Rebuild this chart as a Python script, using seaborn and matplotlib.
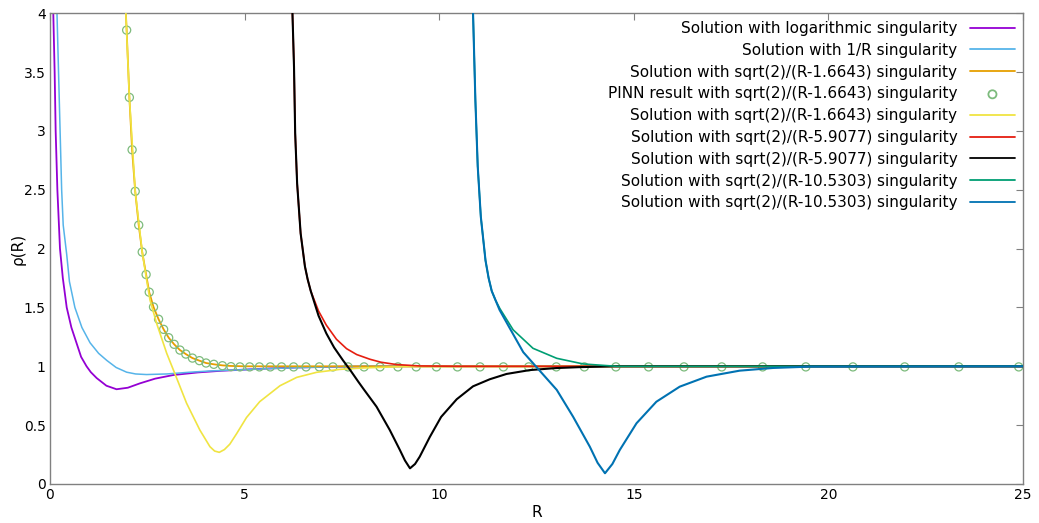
import matplotlib
matplotlib.use("Agg")
import matplotlib.pyplot as plt
import seaborn as sns

# ---------------- data ----------------
log_R   = [0.085, 0.12, 0.146, 0.19, 0.257, 0.33, 0.43, 0.55, 0.68, 0.80, 0.94, 1.05, 1.2, 1.45, 1.71, 2.0, 2.31, 2.7, 3.17, 3.8, 4.4, 4.88, 5.5, 6.3, 7.5, 9.0, 25.0]
log_rho = [4.0, 3.5, 3.0, 2.5, 2.0, 1.75, 1.5, 1.33, 1.2, 1.08, 1.0, 0.95, 0.9, 0.835, 0.805, 0.818, 0.855, 0.895, 0.926, 0.948, 0.962, 0.97, 0.98, 0.99, 0.997, 1.0, 1.0]

inv_R   = [0.18, 0.22, 0.26, 0.30, 0.34, 0.43, 0.50, 0.64, 0.82, 1.03, 1.25, 1.46, 1.70, 1.97, 2.20, 2.48, 3.0, 3.6, 4.2, 4.88, 5.6, 6.5, 8.0, 25.0]
inv_rho = [4.0, 3.5, 3.0, 2.5, 2.2, 1.95, 1.72, 1.5, 1.33, 1.2, 1.11, 1.05, 0.99, 0.95, 0.935, 0.93, 0.935, 0.95, 0.962, 0.97, 0.98, 0.99, 1.0, 1.0]

s1_R   = [1.95, 1.97, 2.04, 2.11, 2.19, 2.28, 2.37, 2.47, 2.55, 2.66, 2.79, 2.92, 3.05, 3.19, 3.34, 3.49, 3.66, 3.84, 4.01, 4.21, 4.43, 4.65, 5.0, 6.0, 25.0]
s1_rho = [4.0, 3.857, 3.285, 2.84, 2.487, 2.20, 1.971, 1.78, 1.63, 1.504, 1.40, 1.314, 1.243, 1.187, 1.138, 1.104, 1.07, 1.048, 1.028, 1.017, 1.008, 1.003, 1.0, 1.0, 1.0]

pinn_R   = [1.97, 2.04, 2.11, 2.19, 2.28, 2.37, 2.47, 2.55, 2.66, 2.79, 2.92, 3.05, 3.19, 3.34, 3.49, 3.66, 3.84, 4.01, 4.21, 4.43,
            4.65, 4.88, 5.13, 5.38, 5.66, 5.95, 6.26, 6.58, 6.92, 7.27, 7.66, 8.07, 8.48, 8.94, 9.41, 9.93, 10.47, 11.05,
            11.65, 12.30, 13.01, 13.73, 14.54, 15.38, 16.29, 17.26, 18.31, 19.42, 20.63, 21.96, 23.35, 24.89]
pinn_rho = [3.857, 3.285, 2.84, 2.487, 2.20, 1.971, 1.78, 1.63, 1.504, 1.40, 1.314, 1.243, 1.187, 1.138, 1.104, 1.07, 1.048, 1.028, 1.017, 1.005,
            0.997, 0.995, 0.995, 0.995, 0.995, 0.995, 0.995, 0.995, 0.995, 0.995, 0.995, 0.995, 0.995, 0.995, 0.995, 0.995, 0.995, 0.995,
            0.995, 0.995, 0.995, 0.995, 0.995, 0.995, 0.995, 0.995, 0.995, 0.995, 0.995, 0.995, 0.995, 0.995]

y1_R   = [1.95, 2.04, 2.19, 2.37, 2.50, 2.57, 2.74, 3.0, 3.24, 3.51, 3.85, 4.11, 4.23, 4.35, 4.48, 4.62, 4.80, 5.05, 5.39, 5.91, 6.34, 6.85, 7.45, 8.05, 9.0, 25.0]
y1_rho = [4.0, 3.285, 2.487, 1.971, 1.70, 1.563, 1.365, 1.11, 0.912, 0.686, 0.459, 0.317, 0.28, 0.269, 0.292, 0.338, 0.43, 0.565, 0.70, 0.835, 0.906, 0.949, 0.974, 0.986, 0.997, 1.0]

s2_R   = [6.23, 6.27, 6.30, 6.35, 6.44, 6.55, 6.62, 6.70, 6.90, 7.10, 7.36, 7.62, 7.88, 8.22, 8.50, 8.90, 9.50, 10.5, 25.0]
s2_rho = [4.0, 3.545, 2.98, 2.555, 2.13, 1.85, 1.74, 1.64, 1.47, 1.35, 1.23, 1.15, 1.10, 1.06, 1.035, 1.015, 1.003, 1.0, 1.0]

b2_R   = [6.23, 6.27, 6.30, 6.35, 6.44, 6.55, 6.62, 6.70, 6.90, 7.10, 7.30, 7.53, 7.71, 7.92, 8.05, 8.39, 8.73, 8.99, 9.12, 9.25, 9.38,
          9.50, 9.76, 10.05, 10.45, 10.87, 11.30, 11.73, 12.33, 13.0, 13.61, 14.5, 25.0]
b2_rho = [4.0, 3.545, 2.98, 2.555, 2.13, 1.85, 1.74, 1.64, 1.43, 1.28, 1.16, 1.05, 0.97, 0.87, 0.81, 0.657, 0.459, 0.289, 0.20, 0.133, 0.17,
          0.232, 0.40, 0.57, 0.72, 0.83, 0.89, 0.935, 0.968, 0.985, 0.993, 1.0, 1.0]

s3_R   = [10.87, 10.93, 10.99, 11.07, 11.19, 11.27, 11.35, 11.45, 11.56, 11.90, 12.41, 13.02, 13.70, 14.56, 16.0, 25.0]
s3_rho = [4.0, 3.26, 2.70, 2.27, 1.90, 1.75, 1.64, 1.56, 1.49, 1.31, 1.153, 1.068, 1.02, 1.0, 1.0, 1.0]

b3_R   = [10.87, 10.93, 10.99, 11.07, 11.19, 11.27, 11.35, 11.45, 11.55, 11.82, 12.16, 12.59, 13.02, 13.44, 13.87, 14.07, 14.26, 14.45,
          14.64, 15.07, 15.58, 16.18, 16.87, 17.72, 18.58, 19.5, 25.0]
b3_rho = [4.0, 3.26, 2.70, 2.27, 1.90, 1.75, 1.64, 1.56, 1.48, 1.32, 1.12, 0.96, 0.80, 0.572, 0.317, 0.18, 0.091, 0.17,
          0.289, 0.516, 0.699, 0.827, 0.912, 0.963, 0.986, 0.997, 1.0]

labels = [
    "Solution with logarithmic singularity",
    "Solution with 1/R singularity",
    "Solution with sqrt(2)/(R-1.6643) singularity",
    "PINN result with sqrt(2)/(R-1.6643) singularity",
    "Solution with sqrt(2)/(R-1.6643) singularity",
    "Solution with sqrt(2)/(R-5.9077) singularity",
    "Solution with sqrt(2)/(R-5.9077) singularity",
    "Solution with sqrt(2)/(R-10.5303) singularity",
    "Solution with sqrt(2)/(R-10.5303) singularity",
]
colors = ["#9400D3", "#56B4E9", "#E69F00", "#7dbb7d", "#F0E442", "#E51E10", "#000000", "#009E73", "#0072B2"]

x_ticks = [0, 5, 10, 15, 20, 25]
x_ticklabels = ["0", "5", "10", "15", "20", "25"]
y_ticks = [0, 0.5, 1, 1.5, 2, 2.5, 3, 3.5, 4]
y_ticklabels = ["0", "0.5", "1", "1.5", "2", "2.5", "3", "3.5", "4"]

# ---------------- plotting ----------------
sns.set_theme(style="white")
plt.rcParams["font.family"] = ["DejaVu Sans"]
plt.rcParams["text.color"] = "black"
plt.rcParams["axes.labelcolor"] = "black"

fig = plt.figure(figsize=(10.39, 5.23), dpi=100)
ax = fig.add_axes([0.0481, 0.0746, 0.9365, 0.9000])

line_series = [
    (0, log_R, log_rho, 1.3),
    (1, inv_R, inv_rho, 1.1),
    (2, s1_R, s1_rho, 1.3),
]
for idx, xs, ys, lw in line_series:
    sns.lineplot(x=xs, y=ys, sort=False, estimator=None, color=colors[idx], lw=lw,
                 label=labels[idx], ax=ax)

sns.scatterplot(x=pinn_R, y=pinn_rho, marker="o", s=34, facecolors="none",
                edgecolors=colors[3], linewidths=0.9, label=labels[3], ax=ax, zorder=3)

line_series2 = [
    (4, y1_R, y1_rho, 1.2),
    (5, s2_R, s2_rho, 1.2),
    (6, b2_R, b2_rho, 1.5),
    (7, s3_R, s3_rho, 1.2),
    (8, b3_R, b3_rho, 1.5),
]
for idx, xs, ys, lw in line_series2:
    sns.lineplot(x=xs, y=ys, sort=False, estimator=None, color=colors[idx], lw=lw,
                 label=labels[idx], ax=ax, zorder=4)

ax.set_xlim(0, 25)
ax.set_ylim(0, 4)
ax.set_xticks(x_ticks)
ax.set_xticklabels(x_ticklabels)
ax.set_yticks(y_ticks)
ax.set_yticklabels(y_ticklabels)
ax.tick_params(direction="in", length=5, width=0.8, color="#808080",
               top=True, right=True, labelsize=10, pad=3, labelcolor="black")
for sp in ax.spines.values():
    sp.set_color("#808080")
    sp.set_linewidth(1.0)
ax.grid(False)
ax.set_xlabel("R", fontsize=11, labelpad=2)
ax.set_ylabel("ρ(R)", fontsize=11, labelpad=-1)

leg = ax.legend(loc="upper right", frameon=False, markerfirst=False, fontsize=11,
                handlelength=3.0, handletextpad=0.8, labelspacing=0.445,
                borderaxespad=0.1, bbox_to_anchor=(1.0, 1.0))
for t in leg.get_texts():
    t.set_color("black")
for h in leg.legend_handles:
    try:
        h.set_linewidth(1.3)
    except Exception:
        pass

fig.savefig("out.png", dpi=100)
